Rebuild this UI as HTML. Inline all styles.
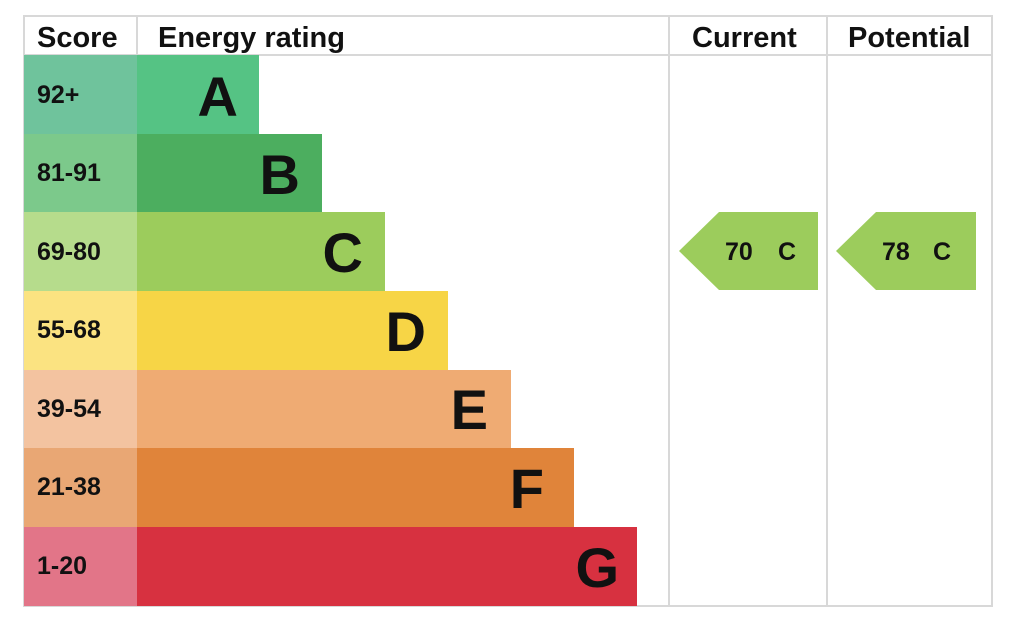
<!DOCTYPE html><html><head><style>body{margin:0;background:#fff}svg{font-family:"Liberation Sans",Arial,sans-serif}</style></head><body>
<svg width="1024" height="624" xmlns="http://www.w3.org/2000/svg" font-family="'Liberation Sans', Arial, sans-serif" font-weight="bold">
<rect width="1024" height="624" fill="#fff"/>
<g stroke="#d8d8d8" stroke-width="2" fill="none">
<rect x="24" y="16" width="968" height="590"/>
<line x1="24" y1="55" x2="992" y2="55"/>
<line x1="137" y1="16" x2="137" y2="55"/>
<line x1="669" y1="16" x2="669" y2="606"/>
<line x1="827" y1="16" x2="827" y2="606"/>
</g>
<g font-size="29" fill="#111">
<text x="37" y="47">Score</text><text x="158" y="47">Energy rating</text>
<text x="692" y="47">Current</text><text x="848" y="47">Potential</text>
</g>
<g>
<rect x="24" y="55" width="113" height="79" fill="#6fc39c"/><rect x="137" y="55" width="122" height="79" fill="#55c384"/>
<rect x="24" y="134" width="113" height="79" fill="#7cc98b"/><rect x="137" y="134" width="185" height="79" fill="#4cae5f"/>
<rect x="24" y="212" width="113" height="79" fill="#b6dc8c"/><rect x="137" y="212" width="248" height="79" fill="#9ccc5c"/>
<rect x="24" y="291" width="113" height="79" fill="#fbe381"/><rect x="137" y="291" width="311" height="79" fill="#f7d546"/>
<rect x="24" y="370" width="113" height="79" fill="#f3c3a0"/><rect x="137" y="370" width="374" height="79" fill="#efab73"/>
<rect x="24" y="448" width="113" height="79" fill="#e9a774"/><rect x="137" y="448" width="437" height="79" fill="#e0843a"/>
<rect x="24" y="527" width="113" height="79" fill="#e27588"/><rect x="137" y="527" width="500" height="79" fill="#d73140"/>
</g>
<g font-size="25" fill="#111">
<text x="37" y="103">92+</text><text x="37" y="181">81-91</text><text x="37" y="260">69-80</text>
<text x="37" y="338">55-68</text><text x="37" y="417">39-54</text><text x="37" y="495">21-38</text><text x="37" y="574">1-20</text>
</g>
<g font-size="56" fill="#111" text-anchor="end">
<text x="238" y="116">A</text><text x="300" y="194">B</text><text x="363" y="272">C</text>
<text x="426" y="351">D</text><text x="488" y="429">E</text><text x="544" y="508">F</text><text x="619" y="587">G</text>
</g>
<polygon points="679,251 719,212 818,212 818,290 719,290" fill="#9ccc5c"/>
<polygon points="836,251 876,212 976,212 976,290 876,290" fill="#9ccc5c"/>
<g font-size="25" fill="#111">
<text x="725" y="260">70</text><text x="778" y="260">C</text>
<text x="882" y="260">78</text><text x="933" y="260">C</text>
</g>
</svg>
</body></html>
